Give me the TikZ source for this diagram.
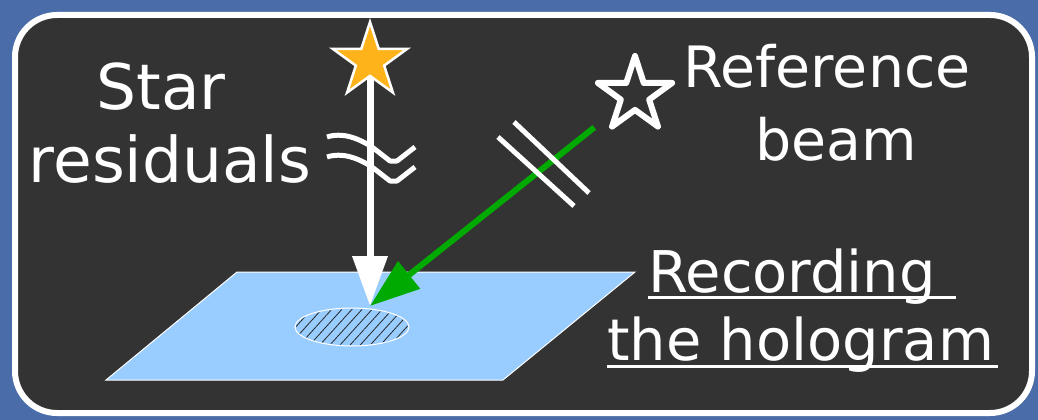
\documentclass[tikz,border=0pt]{standalone}
\usepackage{fontspec}
\setmainfont{DejaVu Sans}
\usetikzlibrary{arrows.meta,shapes.geometric,patterns.meta}
\definecolor{bgblue}{RGB}{74,108,168}
\definecolor{panel}{RGB}{51,51,51}
\definecolor{plate}{RGB}{153,204,255}
\definecolor{beam}{RGB}{0,170,0}
\definecolor{starorange}{RGB}{255,179,26}
\tikzset{
  frame/.style={draw=white, line width=6pt, fill=panel, rounded corners=42pt},
  lbl/.style={text=white, inner sep=0pt},
  uline/.style={white, line width=3pt},
  ray/.style={line width=#1, -{Triangle[length=50pt,width=34pt]}},
  wave/.style={white, line width=5pt, line join=round},
}
\begin{document}
\begin{tikzpicture}[x=1pt, y=-1pt]
  \fill[bgblue] (0,0) rectangle (1038,420);
  \useasboundingbox (0,0) rectangle (1038,420);
  \draw[frame] (15,15) rectangle (1032,413);

  % plate and recorded spot
  \draw[white, fill=plate, line width=1pt] (237,272) -- (635,272) -- (503,380) -- (106,380) -- cycle;
  \draw[white, line width=1pt, fill=plate] (352,327) ellipse [x radius=57, y radius=19];
  \fill[pattern={Lines[angle=48, distance=7.5pt, line width=0.8pt]}, pattern color=black!85]
    (352,327) ellipse [x radius=56, y radius=18];
  \coordinate (hit) at (370,306);

  % sources
  \node[star, star points=5, star point ratio=2.618, minimum size=78pt, inner sep=0pt,
        fill=starorange, draw=white, line width=2.5pt] (sigstar) at (370,61) {};
  \node[star, star points=5, star point ratio=2.618, minimum size=78pt, inner sep=0pt,
        draw=white, line width=6pt, line join=round] (refstar) at (635,95) {};

  \draw[ray=7pt, white] (sigstar.south) -- (hit);
  \draw[ray=6pt, beam, shorten <=52pt] (refstar.center) -- (hit);

  % wavefronts
  \draw[white, line width=5pt] (498,137) -- (574,206);
  \draw[white, line width=5pt] (514,122) -- (589,193);
  \draw[wave] (327,137) .. controls (342,132) and (358,138) .. (372,147) -- (390,161) -- (397,161) -- (415,147);
  \draw[wave] (327,157) .. controls (342,152) and (358,158) .. (372,167) -- (390,181) -- (397,181) -- (415,167);

  % labels
  \node[lbl, anchor=base, font=\fontsize{63}{70}\selectfont] (starlbl) at (161,109) {Star};
  \node[lbl, anchor=base, font=\fontsize{63}{70}\selectfont] (residlbl) at (170,182) {residuals};
  \node[lbl, anchor=base, font=\fontsize{57}{64}\selectfont] (reflbl) at (827,87) {Reference};
  \node[lbl, anchor=base, font=\fontsize{57}{64}\selectfont] (beamlbl) at (836,160) {beam};
  \node[lbl, anchor=base west, font=\fontsize{57.5}{64}\selectfont] (reclbl) at (648,292) {Recording\ };
  \node[lbl, anchor=base west, font=\fontsize{57.5}{64}\selectfont] (hololbl) at (607,360) {the hologram};
  \draw[uline] ([yshift=-5pt]reclbl.base west) -- ([yshift=-5pt,xshift=20pt]reclbl.base east);
  \draw[uline] ([yshift=-6pt]hololbl.base west) -- ([yshift=-6pt,xshift=4pt]hololbl.base east);
\end{tikzpicture}
\end{document}
